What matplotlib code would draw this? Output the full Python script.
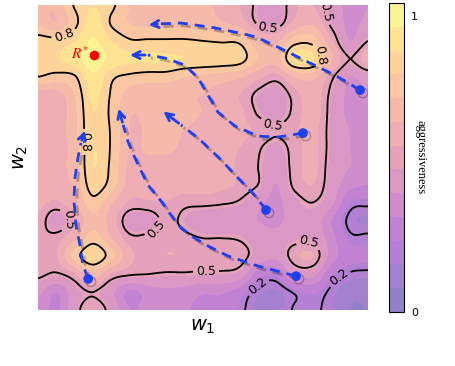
import numpy as np
import matplotlib
matplotlib.use('Agg')
import matplotlib.pyplot as plt
import matplotlib.patheffects as pe
from matplotlib.colors import ListedColormap

# aggressiveness on a 19 x 18 grid (w1 across, w2 rows from top to bottom)
aggr = np.array([
    [0.65, 0.66, 0.81, 0.88, 0.82, 0.72, 0.68, 0.68, 0.68, 0.66, 0.62, 0.56, 0.48, 0.44, 0.55, 0.56, 0.46, 0.38, 0.40],
    [0.70, 0.65, 0.77, 0.93, 0.79, 0.72, 0.70, 0.70, 0.70, 0.68, 0.65, 0.60, 0.49, 0.46, 0.58, 0.62, 0.48, 0.38, 0.42],
    [0.84, 0.83, 0.88, 0.97, 0.88, 0.81, 0.81, 0.81, 0.81, 0.80, 0.79, 0.78, 0.65, 0.62, 0.76, 0.76, 0.57, 0.40, 0.50],
    [0.85, 0.87, 0.93, 1.00, 0.94, 0.90, 0.90, 0.89, 0.88, 0.87, 0.86, 0.84, 0.72, 0.68, 0.90, 0.89, 0.65, 0.50, 0.60],
    [0.80, 0.77, 0.79, 0.95, 0.82, 0.78, 0.76, 0.76, 0.72, 0.70, 0.68, 0.65, 0.58, 0.53, 0.64, 0.66, 0.52, 0.40, 0.44],
    [0.60, 0.60, 0.72, 0.90, 0.79, 0.68, 0.66, 0.66, 0.65, 0.64, 0.60, 0.56, 0.48, 0.44, 0.53, 0.60, 0.48, 0.38, 0.40],
    [0.60, 0.58, 0.70, 0.88, 0.78, 0.65, 0.66, 0.68, 0.66, 0.64, 0.62, 0.58, 0.49, 0.45, 0.52, 0.60, 0.47, 0.38, 0.38],
    [0.62, 0.60, 0.70, 0.87, 0.79, 0.64, 0.65, 0.66, 0.64, 0.62, 0.60, 0.58, 0.55, 0.51, 0.55, 0.58, 0.47, 0.40, 0.40],
    [0.60, 0.60, 0.68, 0.88, 0.79, 0.64, 0.65, 0.65, 0.63, 0.60, 0.58, 0.56, 0.51, 0.46, 0.53, 0.58, 0.47, 0.40, 0.38],
    [0.60, 0.62, 0.68, 0.88, 0.78, 0.62, 0.62, 0.62, 0.62, 0.60, 0.58, 0.55, 0.50, 0.43, 0.53, 0.58, 0.46, 0.40, 0.38],
    [0.60, 0.60, 0.66, 0.85, 0.76, 0.60, 0.60, 0.60, 0.60, 0.60, 0.58, 0.55, 0.50, 0.40, 0.52, 0.56, 0.45, 0.35, 0.32],
    [0.58, 0.55, 0.62, 0.77, 0.65, 0.55, 0.55, 0.56, 0.52, 0.52, 0.51, 0.49, 0.42, 0.38, 0.46, 0.50, 0.42, 0.24, 0.22],
    [0.55, 0.44, 0.55, 0.70, 0.60, 0.45, 0.45, 0.52, 0.48, 0.44, 0.43, 0.42, 0.40, 0.38, 0.44, 0.45, 0.32, 0.18, 0.15],
    [0.52, 0.53, 0.62, 0.76, 0.64, 0.52, 0.52, 0.54, 0.52, 0.50, 0.50, 0.49, 0.44, 0.43, 0.47, 0.47, 0.35, 0.22, 0.22],
    [0.55, 0.55, 0.75, 0.87, 0.75, 0.58, 0.55, 0.56, 0.56, 0.56, 0.56, 0.54, 0.45, 0.42, 0.54, 0.56, 0.36, 0.27, 0.26],
    [0.52, 0.49, 0.55, 0.68, 0.55, 0.51, 0.50, 0.49, 0.49, 0.48, 0.48, 0.45, 0.28, 0.25, 0.42, 0.42, 0.25, 0.19, 0.18],
    [0.42, 0.32, 0.45, 0.50, 0.42, 0.30, 0.35, 0.38, 0.36, 0.33, 0.33, 0.27, 0.17, 0.15, 0.21, 0.25, 0.18, 0.10, 0.10],
    [0.38, 0.30, 0.46, 0.56, 0.46, 0.32, 0.35, 0.36, 0.33, 0.30, 0.30, 0.23, 0.13, 0.12, 0.21, 0.22, 0.16, 0.08, 0.08],
])

# trajectories in (w1, w2), start point first, arrow tip last
path_a_w1 = [0.976, 0.900, 0.818, 0.727, 0.667, 0.636, 0.536, 0.433, 0.370, 0.327]
path_a_w2 = [0.721, 0.770, 0.813, 0.862, 0.892, 0.902, 0.925, 0.941, 0.938, 0.934]
path_b_w1 = [0.803, 0.727, 0.667, 0.597, 0.545, 0.515, 0.485, 0.445, 0.385, 0.333, 0.270]
path_b_w2 = [0.580, 0.567, 0.570, 0.603, 0.649, 0.705, 0.761, 0.803, 0.826, 0.836, 0.836]
path_c_w1 = [0.691, 0.658, 0.636, 0.597, 0.555, 0.485, 0.433, 0.373]
path_c_w2 = [0.328, 0.374, 0.400, 0.443, 0.492, 0.564, 0.607, 0.656]
path_d_w1 = [0.782, 0.667, 0.576, 0.515, 0.464, 0.424, 0.373, 0.333, 0.294, 0.273, 0.258, 0.242]
path_d_w2 = [0.111, 0.144, 0.177, 0.210, 0.243, 0.279, 0.357, 0.410, 0.498, 0.551, 0.607, 0.669]
path_e_w1 = [0.152, 0.136, 0.127, 0.115, 0.109, 0.112, 0.121, 0.130, 0.145]
path_e_w2 = [0.102, 0.148, 0.213, 0.279, 0.357, 0.433, 0.498, 0.548, 0.597]
paths = [(path_a_w1, path_a_w2), (path_b_w1, path_b_w2), (path_c_w1, path_c_w2),
         (path_d_w1, path_d_w2), (path_e_w1, path_e_w2)]

r_star = (0.170, 0.836)
line_levels = [0.2, 0.5, 0.8]


def cubic_up(z, n, axis):
    # Catmull-Rom resampling so the contours come out smooth
    m = z.shape[axis]
    t = np.linspace(0, m - 1, n)
    i = np.clip(np.floor(t).astype(int), 0, m - 2)
    f = t - i
    w = [(-f**3 + 2*f**2 - f) / 2, (3*f**3 - 5*f**2 + 2) / 2,
         (-3*f**3 + 4*f**2 + f) / 2, (f**3 - f**2) / 2]
    out = 0
    for k, wk in zip((-1, 0, 1, 2), w):
        zk = np.take(z, np.clip(i + k, 0, m - 1), axis=axis)
        shape = [1, 1]
        shape[axis] = n
        out = out + zk * wk.reshape(shape)
    return out


Z = np.flipud(aggr)
Z = cubic_up(cubic_up(Z, 331, 1), 306, 0)
X, Y = np.meshgrid(np.linspace(0, 1, Z.shape[1]), np.linspace(0, 1, Z.shape[0]))

# plasma washed out with white (alpha 0.5 look, but opaque)
base = plt.get_cmap('plasma')(np.linspace(0, 1, 256))
base[:, :3] = 0.5 * base[:, :3] + 0.5
cmap = ListedColormap(base)

fig = plt.figure(figsize=(4.56, 3.66), dpi=100)
ax = fig.add_axes([38/456, 56/366, 330/456, 305/366])
cax = fig.add_axes([389/456, 54/366, 15/456, 309/366])

vmax = 1.044
cf = ax.contourf(X, Y, Z, levels=np.linspace(0, vmax, 14), cmap=cmap, vmin=0, vmax=vmax)
cs = ax.contour(X, Y, Z, levels=line_levels, colors='k', linewidths=1.3)
label_spots = [(0.082, 0.892), (0.136, 0.551), (0.855, 0.836),
               (0.697, 0.925), (0.876, 0.977), (0.718, 0.630), (0.085, 0.295),
               (0.355, 0.269), (0.509, 0.128), (0.824, 0.239),
               (0.909, 0.111), (0.700, 0.030)]
ax.clabel(cs, fmt='%.1f', fontsize=9, manual=label_spots, inline=True, inline_spacing=3)

blue = '#1f40f2'
shadow = [pe.SimpleLineShadow(offset=(2, -2), shadow_color='k', alpha=0.25), pe.Normal()]
for px, py in paths:
    ax.plot(px[:-1], py[:-1], color=blue, lw=2, ls=(0, (3.6, 2.5)), zorder=5, path_effects=shadow)
    ax.annotate('', xy=(px[-1], py[-1]), xytext=(px[-2], py[-2]),
                arrowprops=dict(arrowstyle='->', color=blue, lw=2, mutation_scale=13), zorder=5)
    ax.plot(px[0], py[0], 'o', color=blue, ms=7, mec='none', zorder=6, path_effects=shadow)

ax.plot(*r_star, 'o', color='red', ms=7, mec='none', zorder=6)
ax.annotate(r'$R^{*}$', xy=r_star, xytext=(-4, 1), textcoords='offset points',
            ha='right', va='center', color='red', fontsize=11, math_fontfamily='stix')

ax.set_xlim(0, 1)
ax.set_ylim(0, 1)
ax.set_xticks([])
ax.set_yticks([])
for s in ax.spines.values():
    s.set_visible(False)
ax.set_xlabel(r'$w_1$', fontsize=14, labelpad=5)
ax.set_ylabel(r'$w_2$', fontsize=14, labelpad=6)

cb = fig.colorbar(cf, cax=cax, ticks=[0, 1])
cb.ax.tick_params(length=0, labelsize=8, pad=5)
cb.outline.set_linewidth(0.8)
cb.ax.text(2.1, 0.5, 'aggressiveness', rotation=270, ha='center', va='center',
           fontsize=9, family='Liberation Serif', transform=cb.ax.transAxes)

fig.savefig('out.png', dpi=100)
